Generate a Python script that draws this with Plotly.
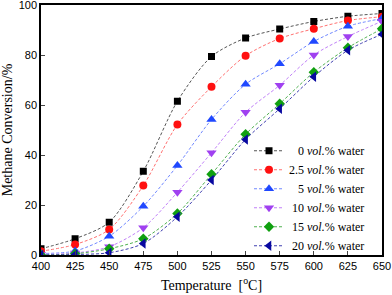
import plotly.graph_objects as go

temps = [400, 425, 450, 475, 500, 525, 550, 575, 600, 625, 650]
water0 = [2.5, 6.5, 13.1, 33.5, 61.5, 79.4, 86.8, 90.4, 93.4, 95.5, 96.6]
water2_5 = [1.5, 4.2, 10.2, 27.8, 52.2, 67.3, 79.7, 86.6, 90.5, 93.8, 95.3]
water5 = [0.6, 1.6, 7.5, 19.5, 35.8, 54.2, 68.3, 76.5, 85.4, 91.5, 94.6]
water10 = [0.2, 0.8, 3.3, 10.9, 25.1, 40.9, 57.1, 67.9, 80.0, 87.4, 93.5]
water15 = [0.0, 0.5, 2.5, 6.5, 16.6, 32.3, 48.3, 60.5, 73.1, 82.9, 90.5]
water20 = [0.0, 0.2, 0.9, 4.6, 15.3, 30.0, 46.2, 58.5, 71.3, 81.9, 88.3]

labels = ["\u2007\u20080", "2.5", "\u2007\u20085", "\u200810", "\u200815", "\u200820"]
series = [water0, water2_5, water5, water10, water15, water20]
marker_colors = ["#000000", "#ff1010", "#2048ff", "#a040f0", "#10a010", "#0808a0"]
line_colors = ["#555555", "#ff7070", "#7088ff", "#c080f8", "#50b050", "#4040b0"]
symbols = ["square", "circle", "triangle-up", "triangle-down", "diamond", "triangle-left"]
sizes = [7, 8, 9, 9, 8, 9]

fig = go.Figure()
for lab, ys, mc, lc, sym, sz in zip(labels, series, marker_colors, line_colors, symbols, sizes):
    fig.add_trace(go.Scatter(
        x=temps, y=ys, mode="lines+markers",
        name=lab + " <i>vol.</i>% water",
        line=dict(color=lc, width=1, dash="3px,2px", shape="spline", smoothing=0.8),
        marker=dict(color=mc, symbol=sym, size=sz, line=dict(width=0)),
    ))

fig.update_layout(
    width=392, height=295,
    margin=dict(l=41, r=10, t=5, b=39.5, autoexpand=False),
    paper_bgcolor="white", plot_bgcolor="white",
    font=dict(family="Liberation Sans", size=11, color="black"),
    legend=dict(x=0.61, y=0.475, xanchor="left", yanchor="top",
                font=dict(family="Liberation Serif", size=12),
                bgcolor="rgba(0,0,0,0)", borderwidth=0),
    showlegend=True,
)
fig.update_xaxes(range=[400, 650], tickvals=list(range(400, 651, 25)), automargin=False,
                 ticks="inside", ticklen=4, tickwidth=1, showgrid=False, zeroline=False,
                 showline=True, linewidth=1.5, linecolor="black", mirror=True,
                 ticklabeloverflow="allow",
                 title=dict(text="Temperature  [<sup>o</sup>C]", standoff=9,
                            font=dict(family="Liberation Serif", size=14)))
fig.update_yaxes(range=[0, 100], tickvals=[0, 20, 40, 60, 80, 100], automargin=False,
                 ticks="inside", ticklen=4, tickwidth=1, showgrid=False, zeroline=False,
                 showline=True, linewidth=1.5, linecolor="black", mirror=True,
                 ticklabeloverflow="allow",
                 title=dict(text="Methane Conversion/%", standoff=6,
                            font=dict(family="Liberation Serif", size=14)))

fig.write_html("out.html", config={"displayModeBar": False},
               post_script="document.body.style.margin='0';document.body.style.padding='0';")
